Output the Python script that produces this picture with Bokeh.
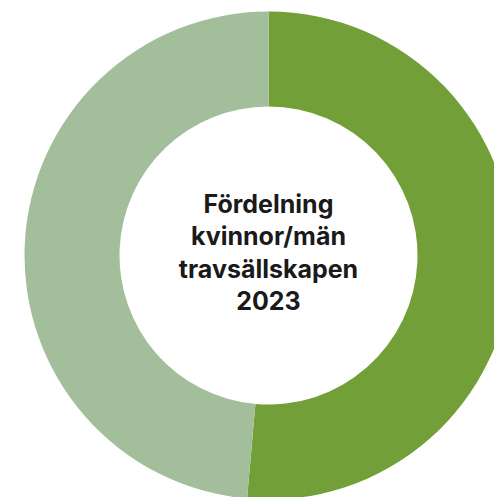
from bokeh.plotting import figure
from bokeh.models import ColumnDataSource, Range1d
from bokeh.core.properties import value
from bokeh.embed import file_html
from bokeh.resources import INLINE
import math

# Data
categories = ["Män", "Kvinnor"]
shares = [51.4, 48.6]
colors = ["#729F37", "#A3BE9A"]
title_lines = ["Fördelning", "kvinnor/män", "travsällskapen", "2023"]

W, H = 494, 497
p = figure(width=W, height=H, output_backend="svg", toolbar_location=None,
           x_range=Range1d(0, W), y_range=Range1d(0, H), min_border=0)
p.axis.visible = False
p.grid.visible = False
p.outline_line_color = None
p.background_fill_color = "white"
p.border_fill_color = "white"

total = sum(shares)
starts, ends = [], []
a = math.pi / 2
for s in shares:
    starts.append(a)
    a -= s / total * 2 * math.pi
    ends.append(a)
src = ColumnDataSource(dict(cat=categories, share=shares, start=starts, end=ends, color=colors))

cx, cy = 268, H - 255
p.annular_wedge(x=cx, y=cy, inner_radius=149, outer_radius=244,
                start_angle="start", end_angle="end", direction="clock",
                fill_color="color", line_color=None, source=src)

p.text(x=[cx], y=[cy + 3], text=["\n".join(title_lines)],
       text_font=value("Inter"), text_font_size="25px", text_font_style="bold",
       text_color="#1a1a1a", text_align="center", text_baseline="middle",
       text_line_height=1.08)

open("out.html", "w").write(file_html(p, INLINE))
